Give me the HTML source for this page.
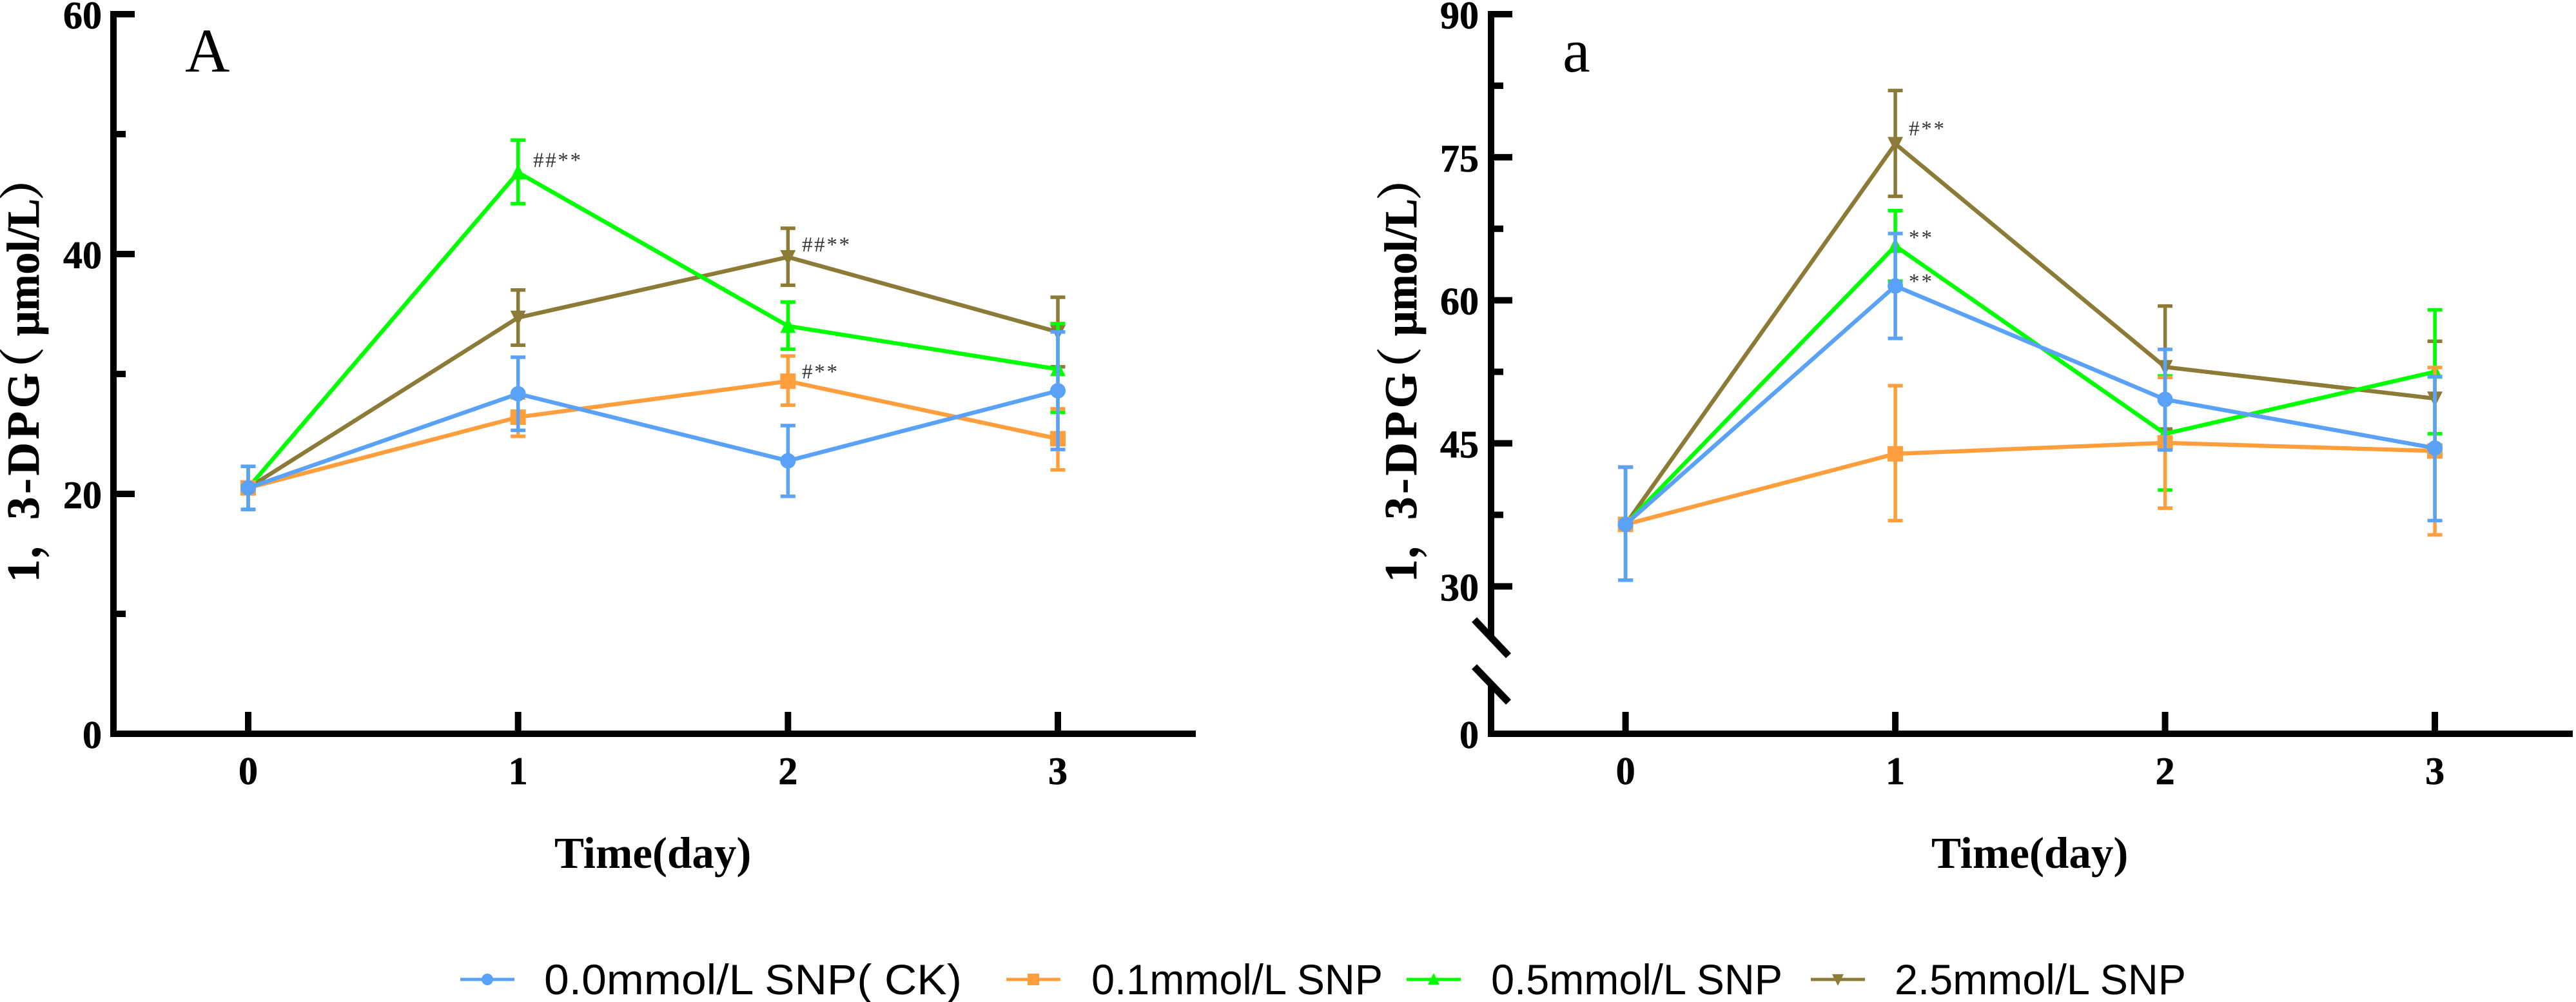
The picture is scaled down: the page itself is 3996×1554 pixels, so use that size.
<!DOCTYPE html>
<html lang="en">
<head>
<meta charset="utf-8">
<title>1,3-DPG time course</title>
<style>
html,body{margin:0;padding:0;background:#fff;}
svg{display:block;}
.tick{font:bold 60px "Liberation Serif","Noto Serif CJK SC",serif;fill:#000;stroke:#000;stroke-width:.7px;}
.ytitle{font:bold 71px "Liberation Serif","Noto Serif CJK SC",serif;fill:#000;stroke:#000;stroke-width:.7px;}
.xtitle{font:bold 69px "Liberation Serif",serif;fill:#000;}
.panel{font:96px "Liberation Serif",serif;fill:#000;}
.sig{font:33px "Liberation Serif",serif;fill:#333;}
.leg{font:66px "Liberation Sans",sans-serif;fill:#000;}
</style>
</head>
<body>
<svg id="chart" xmlns="http://www.w3.org/2000/svg" width="3996" height="1554" viewBox="0 0 3996 1554">
  <rect width="3996" height="1554" fill="#fff"/>

  <g id="axesA"></g>
  <g id="axesB"></g>
  <g id="plotA"></g>
  <g id="plotB"></g>

  <text class="panel" x="287" y="111">A</text>
  <text class="panel" x="2424" y="111">a</text>

  <text class="ytitle" transform="translate(60,901) rotate(-90)"><tspan x="-2">1</tspan><tspan x="34">，</tspan><tspan x="95" textLength="228" lengthAdjust="spacing">3-DPG</tspan><tspan x="292">（</tspan><tspan x="380" textLength="213" lengthAdjust="spacingAndGlyphs">μmol/L</tspan><tspan x="590">）</tspan></text>
  <text class="ytitle" transform="translate(2197,901) rotate(-90)"><tspan x="-2">1</tspan><tspan x="34">，</tspan><tspan x="95" textLength="228" lengthAdjust="spacing">3-DPG</tspan><tspan x="292">（</tspan><tspan x="380" textLength="213" lengthAdjust="spacingAndGlyphs">μmol/L</tspan><tspan x="590">）</tspan></text>

  <text class="xtitle" x="860" y="1346">Time(day)</text>
  <text class="xtitle" x="2996" y="1346">Time(day)</text>

  <text class="sig" x="827" y="259" textLength="74">##**</text>
  <text class="sig" x="1244" y="390" textLength="74">##**</text>
  <text class="sig" x="1244" y="587" textLength="55">#**</text>
  <text class="sig" x="2961" y="210" textLength="55">#**</text>
  <text class="sig" x="2961" y="379" textLength="36">**</text>
  <text class="sig" x="2961" y="447" textLength="36">**</text>

  <g id="legend"></g>
</svg>

<script>
// ---- categories and tick labels ----
const days = [0, 1, 2, 3];
const yMajorA = [0, 20, 40, 60];
const yMinorA = [10, 30, 50];
const yMajorB = [30, 45, 60, 75, 90];
const yMinorB = [37.5, 52.5, 67.5, 82.5];

// ---- panel A values ----
const ckMeanA = [20.5, 28.35, 22.76, 28.6];
const ckHighA = [22.3, 31.4, 25.7, 33.5];
const ckLowA = [18.7, 25.3, 19.8, 23.7];
const lowMeanA = [20.5, 26.4, 29.4, 24.6];
const lowHighA = [22.3, 28.0, 31.5, 27.1];
const lowLowA = [18.7, 24.8, 27.4, 22.0];
const midMeanA = [20.5, 46.8, 34.0, 30.4];
const midHighA = [22.3, 49.5, 36.0, 34.2];
const midLowA = [18.7, 44.2, 32.07, 26.8];
const highMeanA = [20.5, 34.7, 39.75, 33.5];
const highHighA = [22.3, 37.0, 42.15, 36.4];
const highLowA = [18.7, 32.4, 37.4, 30.6];

// ---- panel a values ----
const ckMeanB = [36.5, 61.5, 49.6, 44.5];
const ckHighB = [42.5, 67.0, 54.85, 52.0];
const ckLowB = [30.65, 56.0, 44.3, 36.9];
const lowMeanB = [36.5, 43.9, 45.05, 44.2];
const lowHighB = [42.5, 51.05, 51.9, 52.95];
const lowLowB = [30.65, 36.9, 38.2, 35.4];
const midMeanB = [36.5, 65.7, 46.0, 52.5];
const midHighB = [42.5, 69.4, 52.07, 59.0];
const midLowB = [30.65, 62.0, 40.1, 46.0];
const highMeanB = [36.5, 76.4, 53.0, 49.7];
const highHighB = [42.5, 82.0, 59.4, 55.7];
const highLowB = [30.65, 70.9, 46.5, 43.7];

// ---- axis functions ----
function xA(d) { return 385 + d * 418.67; }
function yA(v) { return 1138 - v * 18.6; }
function xB(d) { return 2521.6 + d * 418.5; }
function yB(v) { return 22 + (90 - v) * 14.79; }

const NS = 'http://www.w3.org/2000/svg';
function mk(parent, tag, props) {
  const el = document.createElementNS(NS, tag);
  for (const k in props) el.setAttribute(k, props[k]);
  parent.appendChild(el);
  return el;
}
function marker(parent, shape, cx, cy, size, color, name) {
  let el;
  const s = size;
  if (shape === 'circle') {
    el = mk(parent, 'circle', {cx: cx, cy: cy, r: s, fill: color});
  } else if (shape === 'square') {
    el = mk(parent, 'rect', {x: cx - s, y: cy - s, width: 2 * s, height: 2 * s, fill: color});
  } else if (shape === 'up') {
    el = mk(parent, 'polygon', {points: (cx - s) + ',' + (cy + s * 0.9) + ' ' + (cx + s) + ',' + (cy + s * 0.9) + ' ' + cx + ',' + (cy - s * 1.1), fill: color});
  } else {
    el = mk(parent, 'polygon', {points: (cx - s) + ',' + (cy - s * 0.9) + ' ' + (cx + s) + ',' + (cy - s * 0.9) + ' ' + cx + ',' + (cy + s * 1.1), fill: color});
  }
  
  
}

function drawSeries(parent, key, color, shape, means, highs, lows, xf, yf) {
  const g = mk(parent, 'g', {});
  
  
  days.forEach(function (d, i) {
    const x = xf(d);
    const stem = mk(g, 'line', {x1: x, x2: x, y1: yf(highs[i]), y2: yf(lows[i]), stroke: color, 'stroke-width': 5.5});
    
    
    [highs[i], lows[i]].forEach(function (b) {
      const cap = mk(g, 'line', {x1: x - 11.5, x2: x + 11.5, y1: yf(b), y2: yf(b), stroke: color, 'stroke-width': 5.5});
      
      
    });
  });
  const line = mk(g, 'polyline', {
    points: days.map(function (d, i) { return xf(d) + ',' + yf(means[i]); }).join(' '),
    fill: 'none', stroke: color, 'stroke-width': 6.4, 'stroke-linejoin': 'miter'
  });
  
  
  days.forEach(function (d, i) {
    marker(g, shape, xf(d), yf(means[i]), 12, color, 'point-' + key + '-day' + d);
  });
}

function rect(parent, x, y, w, h, name) {
  const el = mk(parent, 'rect', {x: x, y: y, width: w, height: h, fill: '#000'});
  
  
}
function label(parent, x, y, anchor, txt, name) {
  const el = mk(parent, 'text', {x: x, y: y, 'text-anchor': anchor, 'class': 'tick'});
  el.textContent = txt;
  
  
}

// ---- axes: panel A ----
const axA = document.getElementById('axesA');
rect(axA, 171, 17, 10, 1126, 'y-axis-line-left');
rect(axA, 171, 1133, 1684, 10, 'x-axis-line-left');
yMajorA.forEach(function (v) {
  if (v !== 0) rect(axA, 181, yA(v) - 5, 28, 10, 'y-major-tick-left-' + v);
  label(axA, 158, yA(v) + 22, 'end', String(v), 'y-tick-label-left-' + v);
});
yMinorA.forEach(function (v) {
  rect(axA, 181, yA(v) - 5, 14, 10, 'y-minor-tick-left-' + v);
});
days.forEach(function (d) {
  rect(axA, xA(d) - 5, 1104, 10, 30, 'x-tick-left-' + d);
  label(axA, xA(d), 1216, 'middle', String(d), 'x-tick-label-left-' + d);
});

// ---- axes: panel a ----
const axB = document.getElementById('axesB');
rect(axB, 2308, 17, 10, 969, 'y-axis-upper-line-right');
rect(axB, 2308, 1060, 10, 83, 'y-axis-lower-line-right');
rect(axB, 2308, 1133, 1683, 10, 'x-axis-line-right');
yMajorB.forEach(function (v) {
  rect(axB, 2318, yB(v) - 5, 28, 10, 'y-major-tick-right-' + v);
  label(axB, 2294, yB(v) + 22, 'end', String(v), 'y-tick-label-right-' + v);
});
label(axB, 2294, 1160, 'end', '0', 'y-tick-label-right-0');
yMinorB.forEach(function (v) {
  rect(axB, 2318, yB(v) - 5, 14, 10, 'y-minor-tick-right-' + v);
});
const breakUpper = mk(axB, 'line', {x1: 2287, y1: 961, x2: 2340, y2: 1017, stroke: '#000', 'stroke-width': 11});


const breakLower = mk(axB, 'line', {x1: 2287, y1: 1034, x2: 2340, y2: 1089, stroke: '#000', 'stroke-width': 11});


days.forEach(function (d) {
  rect(axB, xB(d) - 5, 1104, 10, 30, 'x-tick-right-' + d);
  label(axB, xB(d), 1216, 'middle', String(d), 'x-tick-label-right-' + d);
});

// ---- series ----
const BLUE = '#5AA2F8', ORANGE = '#FF9E3D', GREEN = '#00FF00', OLIVE = '#8B7B37';
const pA = document.getElementById('plotA');
drawSeries(pA, 'a-2-5mmol', OLIVE, 'down', highMeanA, highHighA, highLowA, xA, yA);
drawSeries(pA, 'a-0-5mmol', GREEN, 'up', midMeanA, midHighA, midLowA, xA, yA);
drawSeries(pA, 'a-0-1mmol', ORANGE, 'square', lowMeanA, lowHighA, lowLowA, xA, yA);
drawSeries(pA, 'a-ck', BLUE, 'circle', ckMeanA, ckHighA, ckLowA, xA, yA);
const pB = document.getElementById('plotB');
drawSeries(pB, 'b-2-5mmol', OLIVE, 'down', highMeanB, highHighB, highLowB, xB, yB);
drawSeries(pB, 'b-0-5mmol', GREEN, 'up', midMeanB, midHighB, midLowB, xB, yB);
drawSeries(pB, 'b-0-1mmol', ORANGE, 'square', lowMeanB, lowHighB, lowLowB, xB, yB);
drawSeries(pB, 'b-ck', BLUE, 'circle', ckMeanB, ckHighB, ckLowB, xB, yB);

// ---- legend ----
const legendLabels = ['0.0mmol/L SNP( CK)', '0.1mmol/L SNP', '0.5mmol/L SNP', '2.5mmol/L SNP'];
const legendColors = [BLUE, ORANGE, GREEN, OLIVE];
const legendShapes = ['circle', 'square', 'up', 'down'];
const legendKeyStart = [714, 1561, 2182, 2809];
const legendTextStart = [844, 1693, 2313, 2939];
const legendTextWidth = [648, 452, 452, 452];
const lg = document.getElementById('legend');
legendLabels.forEach(function (t, i) {
  const g = mk(lg, 'g', {});
  
  
  const ln = mk(g, 'line', {x1: legendKeyStart[i], x2: legendKeyStart[i] + 84, y1: 1519, y2: 1519, stroke: legendColors[i], 'stroke-width': 5});
  
  
  marker(g, legendShapes[i], legendKeyStart[i] + 42, 1519, 9, legendColors[i], 'legend-marker-' + i);
  const tx = mk(g, 'text', {x: legendTextStart[i], y: 1542, 'class': 'leg', textLength: legendTextWidth[i], lengthAdjust: 'spacingAndGlyphs'});
  tx.textContent = t;
  
  
});
</script>
</body>
</html>
